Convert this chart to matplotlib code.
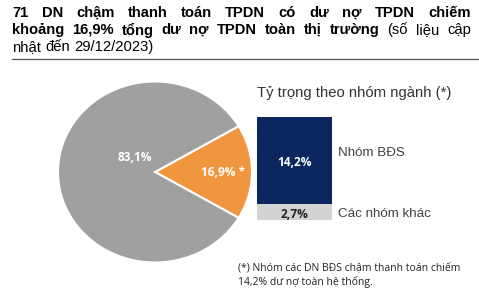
import matplotlib
matplotlib.use("Agg")
import matplotlib.pyplot as plt
from matplotlib.lines import Line2D

# ---- data ----
pie_labels = ["16,9% *", "83,1%"]
pie_values = [16.9, 83.1]
pie_colors = ["#f0963f", "#a0a0a0"]

bar_groups = ["Các nhóm khác", "Nhóm BĐS"]
bar_values = [2.7, 14.2]
bar_value_labels = ["2,7%", "14,2%"]
bar_colors = ["#d3d3d3", "#0c2660"]
bar_text_colors = ["#222222", "white"]

title_lines = [
    [("71 DN chậm thanh toán TPDN có dư nợ TPDN chiếm", "bold")],
    [("khoảng 16,9% tổng dư nợ TPDN toàn thị trường", "bold"), ("(số liệu cập", "normal")],
    [("nhật đến 29/12/2023)", "normal")],
]
bar_title = "Tỷ trọng theo nhóm ngành (*)"
footnote = ["(*) Nhóm các DN BĐS chậm thanh toán chiếm", "14,2% dư nợ toàn hệ thống."]

W, H = 479, 303
fig = plt.figure(figsize=(W / 100, H / 100), dpi=100)
fig.patch.set_facecolor("white")
renderer = fig.canvas.get_renderer()

def fx(px):
    return px / W

def fy(py):
    return 1 - py / H

def fit(t, target_px):
    w = t.get_window_extent(renderer).width
    t.set_fontsize(t.get_fontsize() * target_px / w)
    return t

# ---- title (justified lines) ----
TFONT = "Liberation Sans"
TSIZE = 10.6
left_px, right_px = 12, 471
line_y = [13, 30, 47]
for li, segs in enumerate(title_lines):
    words = []
    for txt, wt in segs:
        for w in txt.split(" "):
            words.append((w, wt))
    texts = []
    for w, wt in words:
        t = fig.text(0, fy(line_y[li]), w, fontsize=TSIZE, family=TFONT,
                     fontweight=wt, color="black", va="center", ha="left")
        texts.append(t)
    widths = [t.get_window_extent(renderer).width for t in texts]
    if li < 2:
        gap = (right_px - left_px - sum(widths)) / (len(words) - 1)
    else:
        sp = fig.text(0, 0, "a a", fontsize=TSIZE, family=TFONT)
        sp2 = fig.text(0, 0, "aa", fontsize=TSIZE, family=TFONT)
        gap = sp.get_window_extent(renderer).width - sp2.get_window_extent(renderer).width
        sp.remove(); sp2.remove()
    x = left_px
    for t, w in zip(texts, widths):
        t.set_x(fx(x))
        x += w + gap

fig.add_artist(Line2D([fx(12), fx(479)], [fy(59), fy(59)], color="#555555", lw=0.9))

# ---- pie ----
cx, cy, rx, ry = 155, 172, 97, 90.5
ax_p = fig.add_axes([fx(cx - rx), fy(cy + ry), fx(2 * rx), (2 * ry) / H])
wedges, _ = ax_p.pie(pie_values, colors=pie_colors, startangle=-pie_values[0] / 100 * 180,
                     counterclock=True, radius=1,
                     wedgeprops=dict(edgecolor="white", linewidth=1.5))
ax_p.set_aspect("auto")
ax_p.set_xlim(-1, 1)
ax_p.set_ylim(-1, 1)
ax_p.axis("off")
t1 = ax_p.text(0.70, -0.01, pie_labels[0], color="white", fontsize=8.6, fontweight="bold",
               family="Open Sans", ha="center", va="center")
t2 = ax_p.text(-0.21, 0.16, pie_labels[1], color="white", fontsize=8.6,
               fontweight="bold", family="Open Sans", ha="center", va="center")

# ---- stacked bar ----
ax_b = fig.add_axes([fx(257), fy(220), fx(75), 103 / H])
ax_b.set_xlim(-0.5, 0.5)
ax_b.set_ylim(0, sum(bar_values))
ax_b.axis("off")

probe = fig.text(0, 0, "Các nhóm khác", fontsize=8, family="Liberation Sans")
fit(probe, 94)
gfs = probe.get_fontsize()
probe.remove()
vfs = 8.6

bottom = 0
for v, c, lab, tc, g in zip(bar_values, bar_colors, bar_value_labels, bar_text_colors, bar_groups):
    ax_b.bar(0, v, bottom=bottom, width=1, color=c, edgecolor="none")
    big = v > 5
    ax_b.text(0, bottom + v / 2 + (-0.3 if big else -0.4), lab, color=tc, fontsize=vfs,
              fontweight="bold", family="Open Sans", ha="center", va="center")
    ax_b.text(0.58, bottom + v / 2 + (1.2 if big else -0.4), g, color="#404040", fontsize=gfs,
              family="Liberation Sans", ha="left", va="center")
    bottom += v

tb = fig.text(fx(257), fy(93), bar_title, fontsize=10.3, family="Liberation Sans",
              color="#333333", ha="left", va="center")
fit(tb, 196)

f1 = fig.text(fx(238), fy(268), footnote[0], fontsize=7, family="Open Sans",
              color="#222222", ha="left", va="center")
fit(f1, 222)
f2 = fig.text(fx(238), fy(282), footnote[1], fontsize=f1.get_fontsize(), family="Open Sans",
              color="#222222", ha="left", va="center")

fig.savefig("out.png", dpi=100, facecolor="white")
